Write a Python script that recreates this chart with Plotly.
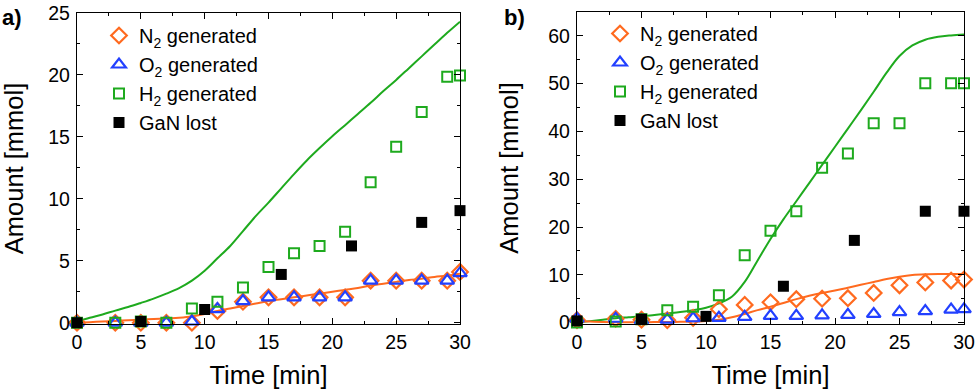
import plotly.graph_objects as go

# --------------------------------------------------
# Data
# --------------------------------------------------
t_pts = [0, 3, 5, 7, 9, 11, 13, 15, 17, 19, 21, 23, 25, 27, 29, 30]
t_gan = [0, 5, 10, 16, 21.5, 27, 30]
t_fit = list(range(0, 31))

# panel a)
n2_a = [0, 0, 0, 0, 0, 0.95, 1.7, 2.05, 2.05, 2.05, 2.05, 3.4, 3.4, 3.4, 3.4, 4.1]
o2_a = [0, 0, 0, 0, 0.1, 1.1, 1.75, 2.05, 2.05, 2.05, 2.05, 3.4, 3.4, 3.4, 3.4, 4.0]
h2_a = [0, 0, 0.1, 0, 1.15, 1.7, 2.85, 4.5, 5.6, 6.2, 7.35, 11.35, 14.2, 17.0, 19.85, 19.95]
gan_a = [0, 0.1, 1.07, 3.9, 6.2, 8.1, 9.05]
h2_fit_a = [0.1, 0.4, 0.67, 0.98, 1.27, 1.6, 1.95, 2.35, 2.8, 3.4, 4.2, 5.2, 6.2, 7.4, 8.6, 9.7,
            10.85, 12.0, 13.1, 14.1, 15.05, 15.95, 16.85, 17.75, 18.7, 19.6, 20.55, 21.5, 22.45,
            23.4, 24.3]
n2_fit_a = [0.0, 0.05, 0.1, 0.15, 0.2, 0.25, 0.3, 0.35, 0.4, 0.5, 0.7, 0.95, 1.15, 1.35, 1.55,
            1.75, 1.9, 2.05, 2.2, 2.35, 2.5, 2.65, 2.8, 3.0, 3.15, 3.3, 3.45, 3.55, 3.7, 3.8, 3.95]

# panel b)
n2_b = [0.5, 0.8, 0.6, 0.5, 1.0, 2.8, 3.7, 4.25, 4.9, 5.0, 5.1, 6.2, 7.8, 8.4, 8.8, 9.0]
o2_b = [0.8, 0.8, 0.5, 0.6, 0.9, 1.0, 1.2, 1.4, 1.4, 1.5, 1.6, 1.8, 2.2, 2.4, 2.7, 2.8]
h2_b = [0, 0.2, 0.7, 2.6, 3.3, 5.7, 14.1, 19.2, 23.3, 32.4, 35.4, 41.7, 41.7, 50.1, 50.1, 50.1]
gan_b = [0.35, 0.7, 1.3, 7.6, 17.2, 23.3, 23.3]
h2_fit_b = [0, 0.3, 0.6, 0.9, 1.1, 1.3, 1.6, 1.9, 2.2, 2.6, 3.1, 4.0, 5.4, 8.5, 13.0, 17.5,
            21.6, 25.4, 29.2, 33.0, 36.8, 40.6, 44.4, 48.3, 52.3, 55.8, 58.0, 59.2, 59.8, 60.1, 60.3]
n2_fit_b = [0.3, 0.2, 0.1, 0.05, 0.05, 0.05, 0.1, 0.1, 0.15, 0.2, 0.35, 0.6, 1.1, 1.8, 2.6, 3.3,
            4.1, 4.9, 5.6, 6.2, 6.7, 7.3, 7.9, 8.5, 9.1, 9.6, 9.95, 10.1, 10.15, 10.15, 10.15]

ORANGE = "#FF6A1F"
BLUE = "#2240FF"
GREEN = "#1EAA1E"
FONT = "Arial, Liberation Sans, sans-serif"

W, H = 975, 392


def px(x):
    return x / W


def py(y):
    return 1 - y / H


fig = go.Figure()

panels = [
    ("x", "y", "legend", n2_a, o2_a, h2_a, gan_a, h2_fit_a, n2_fit_a),
    ("x2", "y2", "legend2", n2_b, o2_b, h2_b, gan_b, h2_fit_b, n2_fit_b),
]

for xa, ya, lg, n2, o2, h2, gan, h2_fit, n2_fit in panels:
    # fitted curves
    fig.add_trace(go.Scatter(x=t_fit, y=h2_fit, mode="lines", xaxis=xa, yaxis=ya,
                             line=dict(color=GREEN, width=2), showlegend=False,
                             line_shape="spline"))
    fig.add_trace(go.Scatter(x=t_fit, y=n2_fit, mode="lines", xaxis=xa, yaxis=ya,
                             line=dict(color=ORANGE, width=2), showlegend=False,
                             line_shape="spline"))
    # measured points
    fig.add_trace(go.Scatter(x=t_pts, y=n2, mode="markers", xaxis=xa, yaxis=ya, legend=lg,
                             name="N<sub>2</sub> generated", cliponaxis=False,
                             marker=dict(symbol="diamond-open", size=12, color=ORANGE,
                                         line=dict(width=2.2, color=ORANGE))))
    fig.add_trace(go.Scatter(x=t_pts, y=o2, mode="markers", xaxis=xa, yaxis=ya, legend=lg,
                             name="O<sub>2</sub> generated", cliponaxis=False,
                             marker=dict(symbol="triangle-up-open", size=12, color=BLUE,
                                         line=dict(width=2.2, color=BLUE))))
    fig.add_trace(go.Scatter(x=t_pts, y=h2, mode="markers", xaxis=xa, yaxis=ya, legend=lg,
                             name="H<sub>2</sub> generated", cliponaxis=False,
                             marker=dict(symbol="square-open", size=10, color=GREEN,
                                         line=dict(width=2, color=GREEN))))
    fig.add_trace(go.Scatter(x=t_gan, y=gan, mode="markers", xaxis=xa, yaxis=ya, legend=lg,
                             name="GaN lost", cliponaxis=False,
                             marker=dict(symbol="square", size=11, color="black")))

axis_common = dict(
    showline=True, linecolor="black", linewidth=1.3, mirror="allticks",
    ticks="inside", ticklen=6, tickwidth=1.2, tickcolor="black",
    showgrid=False, zeroline=False, automargin=False, ticklabeloverflow="allow",
    tickfont=dict(family=FONT, size=19.5, color="black"),
)
title_font = dict(family=FONT, size=25.5, color="black")

fig.update_layout(
    width=W, height=H,
    margin=dict(l=0, r=0, t=0, b=0),
    paper_bgcolor="white", plot_bgcolor="white",
    font=dict(family=FONT, color="black"),
    xaxis=dict(domain=[px(77), px(460)], range=[0, 30], tick0=0, dtick=5,
               minor=dict(dtick=2.5, ticks="inside", ticklen=3, tickcolor="black"),
               title=dict(text="Time [min]", font=title_font, standoff=14),
               anchor="y", **axis_common),
    yaxis=dict(domain=[py(324), py(13)], range=[-0.1, 25], tick0=0, dtick=5,
               minor=dict(dtick=2.5, ticks="inside", ticklen=3, tickcolor="black"),
               title=dict(text="Amount [mmol]", font=title_font, standoff=22),
               ticklabelstandoff=2, anchor="x", **axis_common),
    xaxis2=dict(domain=[px(577), px(964)], range=[0, 30], tick0=0, dtick=5,
                minor=dict(dtick=2.5, ticks="inside", ticklen=3, tickcolor="black"),
                title=dict(text="Time [min]", font=title_font, standoff=14),
                anchor="y2", **axis_common),
    yaxis2=dict(domain=[py(324), py(12)], range=[-0.3, 65], tick0=0, dtick=10,
                minor=dict(dtick=5, ticks="inside", ticklen=3, tickcolor="black"),
                title=dict(text="Amount [mmol]", font=title_font, standoff=22),
                ticklabelstandoff=2, anchor="x2", **axis_common),
    legend=dict(x=px(99), y=py(16), xanchor="left", yanchor="top",
                bgcolor="rgba(0,0,0,0)", font=dict(family=FONT, size=20)),
    legend2=dict(x=px(600), y=py(14), xanchor="left", yanchor="top",
                 bgcolor="rgba(0,0,0,0)", font=dict(family=FONT, size=20)),
    annotations=[
        dict(text="<b>a)</b>", x=0, y=py(3), xref="paper", yref="paper",
             xanchor="left", yanchor="top", showarrow=False, font=dict(size=22)),
        dict(text="<b>b)</b>", x=px(502), y=py(3), xref="paper", yref="paper",
             xanchor="left", yanchor="top", showarrow=False, font=dict(size=22)),
    ],
)

# the page body has a default 8px margin; drop it so the figure fills the window
fig.write_html("out.html", config={"displayModeBar": False},
               post_script="document.body.style.margin = '0px';")
